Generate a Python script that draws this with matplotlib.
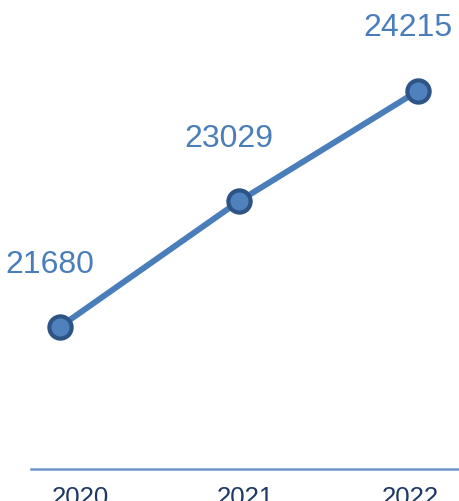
import matplotlib.pyplot as plt

# datos
anios = ['2020', '2021', '2022']
valores = [21680, 23029, 24215]

color_linea = '#4A7EBB'
color_borde = '#2E5486'
color_etiqueta = '#4A7EBB'
color_eje = '#1F3864'

plt.rcParams['font.family'] = ['Liberation Sans', 'DejaVu Sans']

fig = plt.figure(figsize=(4.6, 5.01), dpi=100)
ax = fig.add_axes([31 / 460, 1 - 469 / 501, 1 - 31 / 460, 469 / 501])

x = list(range(len(anios)))
ax.plot(x, valores, color=color_linea, linewidth=4.3, marker='o',
        markersize=16, markerfacecolor='#4F81BD', markeredgecolor=color_borde,
        markeredgewidth=3, solid_capstyle='round', zorder=3)

for xi, v in zip(x, valores):
    ax.annotate(str(v), (xi, v), xytext=(-7, 45), textcoords='offset points',
                ha='center', va='center', fontsize=23, color=color_etiqueta)

ax.set_xlim(-0.160, 2.236)
ax.set_ylim(20155, 25192)

for lado in ['top', 'right', 'left']:
    ax.spines[lado].set_visible(False)
ax.spines['bottom'].set_color('#6F95C8')
ax.spines['bottom'].set_linewidth(1.8)
ax.set_yticks([])
ax.set_xticks([])

# etiquetas de años en un eje gemelo (algo desplazadas como en el original)
ax2 = ax.twiny()
ax2.set_xlim(-0.297, 2.303)
ax2.xaxis.set_ticks_position('bottom')
ax2.xaxis.set_label_position('bottom')
ax2.set_xticks(x)
ax2.set_xticklabels(anios, fontsize=18.5, color=color_eje)
ax2.tick_params(axis='x', length=0, pad=12)
for lado in ax2.spines:
    ax2.spines[lado].set_visible(False)

fig.savefig('out.png', dpi=100)
